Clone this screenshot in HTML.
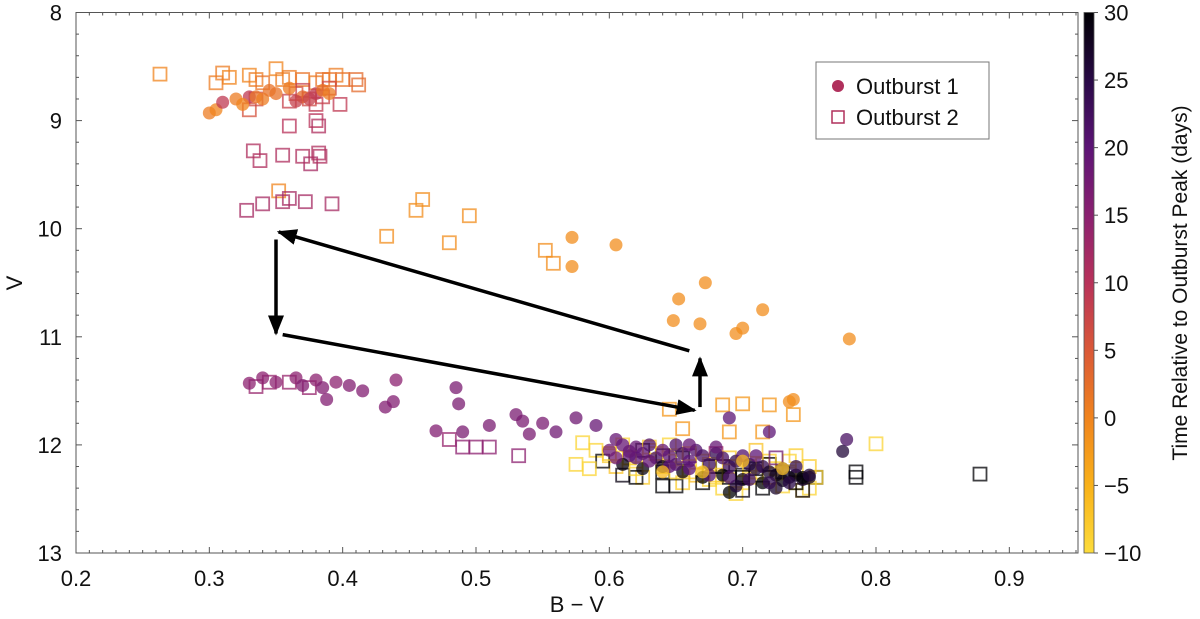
<!DOCTYPE html>
<html><head><meta charset="utf-8">
<style>
html,body{margin:0;padding:0;background:#fff;}
svg{display:block;font-family:"Liberation Sans",sans-serif;}
</style></head>
<body>
<svg id="chart" width="1200" height="619" xmlns="http://www.w3.org/2000/svg">
<defs>
<linearGradient id="cbgrad" x1="0" y1="1" x2="0" y2="0">
<stop offset="0" stop-color="#fcdc3c"/><stop offset="0.12" stop-color="#f9b31a"/>
<stop offset="0.25" stop-color="#f0841e"/><stop offset="0.37" stop-color="#db5a36"/>
<stop offset="0.5" stop-color="#b8325a"/><stop offset="0.62" stop-color="#8c2170"/>
<stop offset="0.75" stop-color="#5c1475"/><stop offset="0.87" stop-color="#2a0a48"/>
<stop offset="1" stop-color="#000004"/></linearGradient>
<marker id="ah" markerWidth="20" markerHeight="16" refX="18" refY="8" orient="auto" markerUnits="userSpaceOnUse" viewBox="0 0 20 16"><path d="M0,0 L20,8 L0,16 z" fill="#000"/></marker>
</defs>
<g id="marks"></g>
<g id="axes"></g>
</svg>
<script>
// Outburst 1 (circles): B-V, V, time (days)
const o1BV = [0.30,0.305,0.31,0.32,0.33,0.335,0.34,0.35,0.36,0.37,0.375,0.38,0.385,0.39,0.325,0.345,0.365,
0.572,0.572,0.605,0.652,0.672,0.648,0.668,0.695,0.70,0.715,0.78,0.735,0.738,
0.33,0.34,0.35,0.365,0.37,0.38,0.385,0.388,0.395,0.405,0.415,0.432,0.438,0.44,0.47,0.485,0.487,0.49,0.51,0.53,0.535,0.54,0.55,0.56,0.575,0.59,0.605,0.69,0.72,0.778,
0.60,0.61,0.615,0.62,0.625,0.63,0.635,0.64,0.645,0.65,0.655,0.66,0.665,0.67,0.675,0.68,0.685,0.69,0.695,0.70,0.705,0.71,0.715,0.72,0.725,0.73,0.735,0.74,0.745,0.75,
0.61,0.625,0.64,0.655,0.67,0.685,0.70,0.715,0.73,0.745,0.69,0.775,0.62,0.66,0.68,0.71,0.74,0.65,0.695,0.725,
0.605,0.615,0.63,0.645,0.66,0.675,0.69,0.705,0.72,0.735,0.75,0.64,0.67,0.70,0.73];
const o1V = [8.93,8.9,8.83,8.8,8.78,8.78,8.8,8.75,8.7,8.78,8.8,8.75,8.72,8.75,8.85,8.72,8.82,
10.08,10.35,10.15,10.65,10.5,10.85,10.88,10.97,10.92,10.75,11.02,11.6,11.58,
11.43,11.38,11.42,11.38,11.45,11.4,11.47,11.58,11.42,11.45,11.5,11.65,11.6,11.4,11.87,11.47,11.62,11.88,11.82,11.72,11.78,11.9,11.8,11.88,11.75,11.82,11.95,11.75,11.88,11.95,
12.05,12.0,12.1,12.02,12.08,12.0,12.12,12.05,12.1,12.0,12.08,12.15,12.05,12.1,12.18,12.08,12.12,12.2,12.15,12.1,12.18,12.22,12.2,12.25,12.28,12.22,12.3,12.28,12.32,12.3,
12.18,12.22,12.2,12.25,12.3,12.28,12.32,12.35,12.33,12.3,12.44,12.06,12.12,12.0,12.02,12.1,12.2,12.18,12.38,12.4,
12.12,12.06,12.15,12.2,12.22,12.28,12.3,12.32,12.35,12.35,12.28,12.25,12.25,12.15,12.22];
const o1T = [1,0,9,1,9,2,1,2,1,3,8,9,2,1,0,2,8,
-1,-1,-1,-1,-1,-1,-1,-1,-1,-1,-1,-1,-1,
15,15,15,15,16,15,16,16,15,16,16,16,16,15,16,17,17,17,17,17,17,17,17,18,18,19,19,20,20,22,
18,19,20,19,20,21,22,19,20,21,22,20,21,22,23,24,22,23,24,21,25,26,24,27,28,26,28,29,27,28,
29,29,28,29,30,30,29,30,29,30,30,26,20,19,19,20,24,21,26,27,
18,19,19,20,20,21,22,23,24,25,26,-6,-7,-6,-7];
// Outburst 2 (squares)
const o2BV = [0.263,0.31,0.315,0.305,0.33,0.335,0.34,0.35,0.355,0.36,0.37,0.38,0.385,0.39,0.395,0.40,0.41,0.412,
0.33,0.335,0.36,0.365,0.37,0.375,0.38,0.385,0.39,0.398,0.36,0.38,0.382,
0.333,0.338,0.355,0.37,0.376,0.382,0.383,0.328,0.34,0.352,0.355,0.36,0.372,0.392,
0.433,0.455,0.46,0.48,0.495,0.552,0.558,
0.335,0.345,0.36,0.375,0.48,0.5,0.49,0.51,0.532,
0.645,0.655,0.685,0.70,0.72,0.738,0.69,0.715,
0.785,0.785,0.80,0.878,0.755,
0.58,0.59,0.60,0.61,0.62,0.63,0.64,0.65,0.66,0.67,0.68,0.69,0.70,0.71,0.72,0.73,0.74,0.75,0.605,0.625,0.645,0.665,0.685,0.705,0.725,0.745,0.615,0.655,0.695,0.735,0.575,0.635,0.675,0.715,0.755,
0.595,0.61,0.625,0.64,0.655,0.67,0.685,0.70,0.715,0.73,0.745,0.62,0.65,0.68,0.71,0.74,0.66,0.69,0.72,0.70,0.675,0.64,
0.60,0.615,0.63,0.645,0.66,0.675,0.69,0.705,0.72,0.735,0.75,0.62,0.65,0.68,0.71,0.74,0.585,0.64,0.70,0.725];
const o2V = [8.57,8.56,8.6,8.65,8.58,8.62,8.65,8.52,8.62,8.6,8.62,8.65,8.62,8.62,8.58,8.62,8.62,8.67,
8.9,8.8,8.82,8.75,8.72,8.8,8.85,8.78,8.7,8.85,9.05,9.0,9.05,
9.28,9.37,9.32,9.33,9.4,9.3,9.33,9.83,9.77,9.65,9.75,9.72,9.75,9.77,
10.07,9.83,9.73,10.13,9.88,10.2,10.32,
11.46,11.42,11.42,11.47,11.95,12.02,12.02,12.02,12.1,
11.67,11.85,11.63,11.62,11.63,11.72,11.88,11.88,
12.25,12.3,11.99,12.27,12.3,
11.98,12.05,12.1,12.0,12.15,12.05,12.2,12.1,12.25,12.15,12.3,12.2,12.35,12.25,12.3,12.38,12.35,12.4,12.2,12.3,12.0,12.28,12.4,12.3,12.22,12.42,12.12,12.35,12.45,12.15,12.18,12.08,12.32,12.18,12.3,
12.15,12.28,12.05,12.25,12.12,12.35,12.2,12.28,12.4,12.25,12.42,12.3,12.38,12.08,12.22,12.35,12.1,12.3,12.18,12.42,12.2,12.1,
12.08,12.12,12.02,12.15,12.08,12.18,12.12,12.2,12.15,12.25,12.2,12.22,12.25,12.28,12.05,12.1,12.22,12.38,12.3,12.12];
const o2T = [0,1,0,1,0,1,2,0,1,1,2,1,2,2,1,2,3,3,
6,7,8,6,8,7,9,8,7,9,10,10,11,
11,11,11,11,12,11,11,12,12,0,12,12,12,12,
-1,-1,-1,-1,-1,-1,-1,
14,14,14,14,14,15,15,15,15,
-2,-2,-2,-2,-2,-2,-2,-2,
30,30,-9,30,30,
-9,-9,-8,-9,-9,-8,-9,-9,-8,-9,-9,-8,-9,-9,-8,-9,-9,-9,-7,-8,-9,-6,-9,-8,-9,-9,-9,-8,-9,-9,-9,-8,-9,-8,-9,
30,29,30,30,29,30,30,29,30,30,29,30,30,12,30,30,18,30,30,29,30,30,
-8,-9,-8,-9,-8,-9,-8,-9,-8,-9,-8,-9,-9,-8,-7,-8,-9,30,30,18];
const xTicks = [0.2,0.3,0.4,0.5,0.6,0.7,0.8,0.9];
const yTicks = [8,9,10,11,12,13];
const cTicks = [-10,-5,0,5,10,15,20,25,30];
const cTickLabels = ["\u221210","\u22125","0","5","10","15","20","25","30"];

const X0=76,X1=1078,Y0=12.5,Y1=553;
const xMin=0.2,xMax=0.9515,yMin=8,yMax=13,cMin=-10,cMax=30;
const sx=v=>X0+(v-xMin)/(xMax-xMin)*(X1-X0);
const sy=v=>Y0+(v-yMin)/(yMax-yMin)*(Y1-Y0);
const sc=v=>Y1-(v-cMin)/(cMax-cMin)*(Y1-Y0);
const stops=[[252,220,60],[249,179,26],[240,132,30],[219,90,54],[184,50,90],[140,33,112],[92,20,117],[42,10,72],[0,0,4]];
function cmap(t){let f=(t-cMin)/(cMax-cMin);f=Math.max(0,Math.min(1,f))*(stops.length-1);
const i=Math.min(stops.length-2,Math.floor(f)),r=f-i;const a=stops[i],b=stops[i+1];
return `rgb(${Math.round(a[0]+(b[0]-a[0])*r)},${Math.round(a[1]+(b[1]-a[1])*r)},${Math.round(a[2]+(b[2]-a[2])*r)})`;}
const NS="http://www.w3.org/2000/svg";
function mk(tag,attrs,parent){const e=document.createElementNS(NS,tag);for(const k in attrs)e.setAttribute(k,attrs[k]);parent.appendChild(e);return e;}
const marks=document.getElementById('marks'), axes=document.getElementById('axes');

o2BV.forEach((bv,i)=>{const c=cmap(o2T[i]);
 const r=mk('rect',{x:sx(bv)-6.5,y:sy(o2V[i])-6.5,width:13,height:13,fill:'none',stroke:c,'stroke-width':1.8,opacity:0.75},marks);
 
 });
o1BV.forEach((bv,i)=>{const c=cmap(o1T[i]);
 const e=mk('circle',{cx:sx(bv),cy:sy(o1V[i]),r:6.5,fill:c,opacity:0.75},marks);
 
 });

// arrows
const arrowsBV=[[0.35,0.35],[0.355,0.664],[0.668,0.668],[0.66,0.352]];
const arrowsV=[[10.1,10.97],[10.98,11.68],[11.65,11.2],[11.13,10.03]];
arrowsBV.forEach((a,i)=>{const l=mk('line',{x1:sx(a[0]),y1:sy(arrowsV[i][0]),x2:sx(a[1]),y2:sy(arrowsV[i][1]),stroke:'#000','stroke-width':3.5,'marker-end':'url(#ah)'},marks);
 
 });

// frame
const fr=mk('rect',{x:X0,y:Y0,width:X1-X0,height:Y1-Y0,fill:'none',stroke:'#555','stroke-width':1},axes);


for(let k=0;k<=75;k++){const v=0.2+k*0.01;const x=sx(v);const L=(k%10===0)?6:3;
 mk('line',{x1:x,y1:Y1,x2:x,y2:Y1-L,stroke:'#555'},axes);mk('line',{x1:x,y1:Y0,x2:x,y2:Y0+L,stroke:'#555'},axes);}
for(let k=0;k<=25;k++){const v=8+k*0.2;const y=sy(v);const L=(k%5===0)?6:3;
 mk('line',{x1:X0,y1:y,x2:X0+L,y2:y,stroke:'#555'},axes);mk('line',{x1:X1,y1:y,x2:X1-L,y2:y,stroke:'#555'},axes);}
xTicks.forEach(v=>{const t=mk('text',{x:sx(v),y:586,'text-anchor':'middle','font-size':22,fill:'#111'},axes);t.textContent=v.toFixed(1);
 
 });
yTicks.forEach(v=>{const t=mk('text',{x:62,y:sy(v)+8,'text-anchor':'end','font-size':22,fill:'#111'},axes);t.textContent=String(v);
 
 });
let t=mk('text',{x:577,y:612,'text-anchor':'middle','font-size':22,fill:'#111'},axes);t.textContent='B \u2212 V';


t=mk('text',{x:22,y:283,'text-anchor':'middle','font-size':22,fill:'#111',transform:'rotate(-90 22 283)'},axes);t.textContent='V';


const cb=mk('rect',{x:1084,y:Y0,width:10,height:Y1-Y0,fill:'url(#cbgrad)',stroke:'#555','stroke-width':0.8},axes);


cTicks.forEach((v,i)=>{const y=sc(v);mk('line',{x1:1094,y1:y,x2:1098,y2:y,stroke:'#555'},axes);
 const tt=mk('text',{x:1104,y:y+8,'font-size':22,fill:'#111'},axes);tt.textContent=cTickLabels[i];
 
 });
t=mk('text',{x:1187,y:283,'text-anchor':'middle','font-size':21,fill:'#111',transform:'rotate(-90 1187 283)'},axes);t.textContent='Time Relative to Outburst Peak (days)';


const lg=mk('g',{},axes);


mk('rect',{x:816,y:62,width:173,height:77,fill:'#fff',stroke:'#777','stroke-width':1},lg);
const lc=mk('circle',{cx:838,cy:86,r:6,fill:'#b0305c'},lg);


const ls=mk('rect',{x:832,y:111,width:12,height:12,fill:'none',stroke:'#b0305c','stroke-width':1.5},lg);


t=mk('text',{x:856,y:94,'font-size':22,fill:'#111'},lg);t.textContent='Outburst 1';


t=mk('text',{x:856,y:125,'font-size':22,fill:'#111'},lg);t.textContent='Outburst 2';


</script>
</body></html>
